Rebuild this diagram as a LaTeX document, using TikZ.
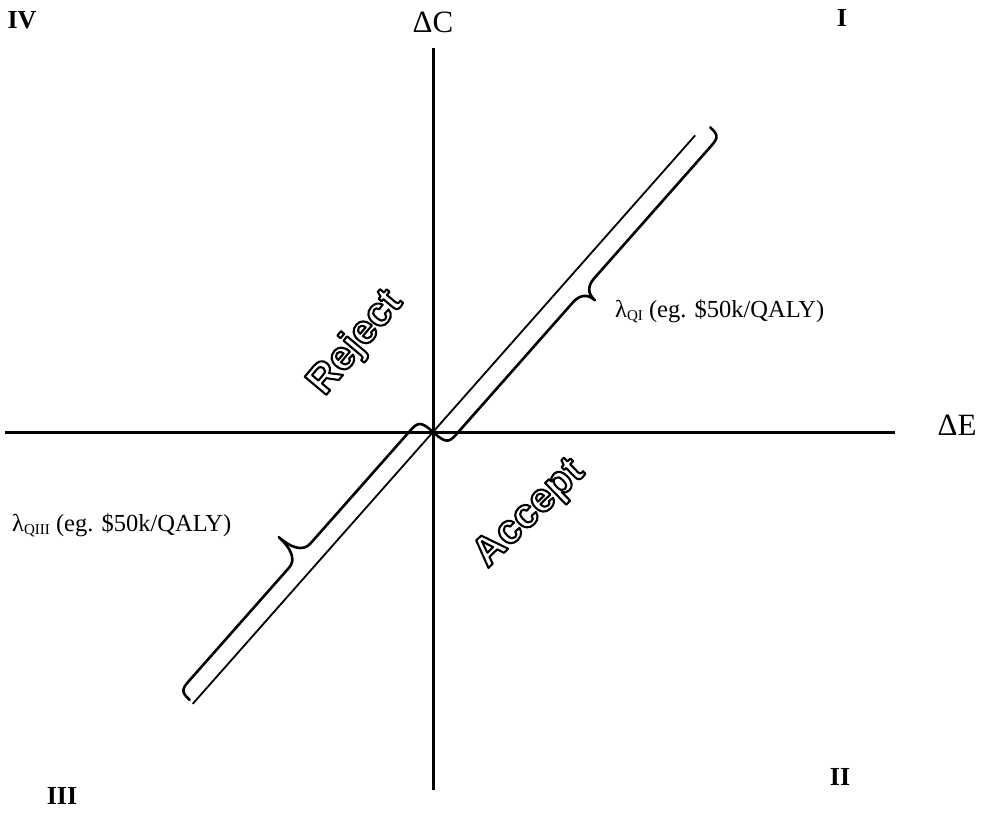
\documentclass[tikz,border=0pt]{standalone}
\usepackage{fontspec}
\setmainfont{Liberation Serif}
\newfontfamily\outfont{Liberation Sans}
\newcommand{\hollow}[1]{\special{pdf:literal 1 Tr 2.1 w 1 J 1 j}#1\special{pdf:literal 0 Tr}}
\begin{document}
\begin{tikzpicture}[x=1pt,y=-1pt,
  axis/.style={line width=3pt},
  diag/.style={line width=1.8pt},
  bracepath/.style={line width=2.6pt, line cap=round, line join=round},
  quad/.style={font=\fontsize{26}{26}\selectfont\bfseries, inner sep=0},
  axlabel/.style={font=\fontsize{31}{31}\selectfont, inner sep=0},
  lam/.style={font=\fontsize{24.5}{24.5}\selectfont, inner sep=0, anchor=base west},
  decision/.style={font=\outfont\bfseries\fontsize{41}{41}\selectfont, inner sep=0}]
\useasboundingbox (0,0) rectangle (987,812);
\coordinate (O) at (433,432);
\coordinate (ytop) at (433,48);
\coordinate (ybot) at (433,790);
\coordinate (xl) at (5,432);
\coordinate (xr) at (895,432);
\draw[axis] (ybot) -- (ytop);
\draw[axis] (xl) -- (xr);
\begin{scope}[shift={(433,432)}, x={(0.662pt,0.749pt)}, y={(-0.749pt,0.662pt)}]
  \coordinate (dlo) at (-363,0);
  \coordinate (dhi) at (396,0);
  \draw[diag] (dlo) -- (dhi);
  % upper brace (lower-right side)
  \draw[bracepath] (0,-2) .. controls (0,-19) and (4,-19) .. (16,-19)
    -- (190,-19) .. controls (200,-19) and (206,-24) .. (206,-34)
    .. controls (206,-24) and (212,-19) .. (222,-19)
    -- (396,-19) .. controls (408,-19) and (412,-19) .. (412,-6);
  % lower brace (upper-left side)
  \draw[bracepath] (0,2) .. controls (0,18) and (-4,18) .. (-16,18)
    -- (-165,18) .. controls (-176,18) and (-181,30) .. (-181,46)
    .. controls (-181,30) and (-186,18) .. (-197,18)
    -- (-346,18) .. controls (-358,18) and (-362,18) .. (-362,5);
\end{scope}
\node[axlabel] (dC) at (433,22) {ΔC};
\node[axlabel] (dE) at (957,425) {ΔE};
\node[quad] (q4) at (22,20) {IV};
\node[quad] (q1) at (842,18) {I};
\node[quad] (q3) at (62,796) {III};
\node[quad] (q2) at (840,777) {II};
\node[lam] (l1) at (615,317) {λ\raisebox{-3pt}{\fontsize{15}{15}\selectfont QI} (eg. \$50k/QALY)};
\node[lam] (l3) at (12,531) {λ\raisebox{-3pt}{\fontsize{15}{15}\selectfont QIII} (eg. \$50k/QALY)};
\node[decision, rotate=50] (rej) at (356,343) {\hollow{Reject}};
\node[decision, rotate=44] (acc) at (530,514) {\hollow{Accept}};
\end{tikzpicture}
\end{document}
